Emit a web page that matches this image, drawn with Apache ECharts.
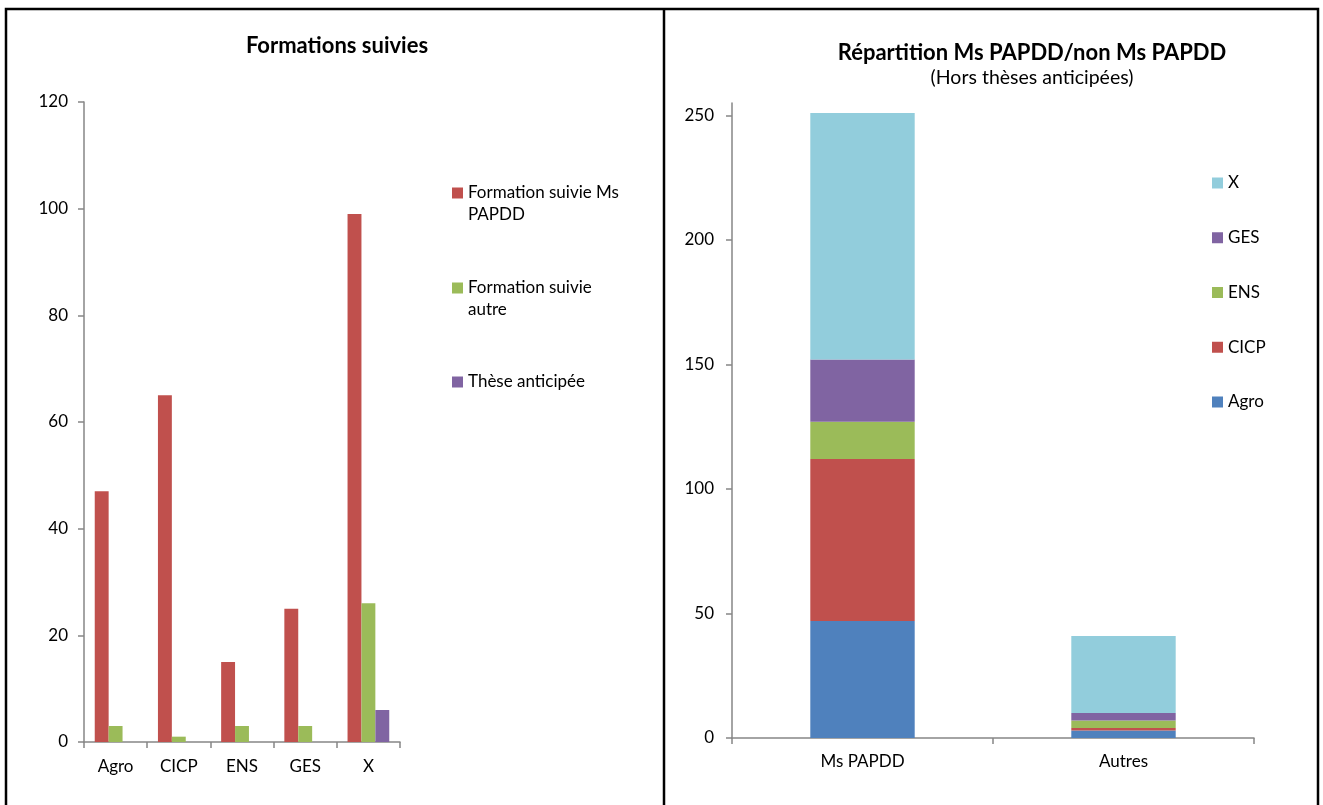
<!DOCTYPE html>
<html>
<head>
<meta charset="utf-8">
<script src="https://cdn.jsdelivr.net/npm/echarts@6/dist/echarts.min.js"></script>
<style>
  html, body { margin: 0; padding: 0; background: #fff; }
  #chart { width: 1323px; height: 805px; }
</style>
</head>
<body>
<div id="chart"></div>
<script>
// Formations suivies (left panel)
const schools = ['Agro', 'CICP', 'ENS', 'GES', 'X'];
const msPapdd = [47, 65, 15, 25, 99];
const autre = [3, 1, 3, 3, 26];
const theseAnticipee = [0, 0, 0, 0, 6];

// Répartition Ms PAPDD / non Ms PAPDD (right panel), one stack per school
const groups = ['Ms PAPDD', 'Autres'];
const stackAgro = [47, 3];
const stackCicp = [65, 1];
const stackEns = [15, 3];
const stackGes = [25, 3];
const stackX = [99, 31];
const rightTicks = [0, 50, 100, 150, 200, 250];

const FONT = 'Lato, "Open Sans", sans-serif';
const AXIS = '#868686';
const RED = '#C0504D', GREEN = '#9BBB59', PURPLE = '#8064A2', BLUE = '#4F81BD', CYAN = '#92CDDC';

const chart = echarts.init(document.getElementById('chart'), null, { renderer: 'canvas' });

const axisLineStyle = { show: true, lineStyle: { color: AXIS, width: 1.5 } };
const tickStyle = { show: true, length: 6, lineStyle: { color: AXIS, width: 1.5 } };
const labelText = { color: '#000', fontFamily: FONT, fontSize: 17 };
const legendText = { color: '#000', fontFamily: FONT, fontSize: 17, lineHeight: 22 };

// Two-line legend entries: a blank first line keeps the swatch level with the
// first line of text, since the legend centres the swatch on the whole block.
const twoLine = (a, b) => () => ' \n' + a + '\n' + b;

chart.setOption({
  animation: false,
  textStyle: { fontFamily: FONT },
  title: [
    { text: 'Formations suivies', left: 337, top: 35, textAlign: 'center', padding: 0,
      textStyle: { fontFamily: FONT, fontSize: 22, fontWeight: 'bold', color: '#000' } },
    { text: 'Répartition Ms PAPDD/non Ms PAPDD', subtext: '(Hors thèses anticipées)',
      left: 1032, top: 42, textAlign: 'center', itemGap: 4, padding: 0,
      textStyle: { fontFamily: FONT, fontSize: 22, fontWeight: 'bold', color: '#000' },
      subtextStyle: { fontFamily: FONT, fontSize: 19.5, color: '#000' } }
  ],
  legend: [
    { data: ['Formation suivie Ms PAPDD'], left: 452, top: 160, padding: 0,
      itemWidth: 11, itemHeight: 11, icon: 'rect',
      formatter: twoLine('Formation suivie Ms', 'PAPDD'), textStyle: legendText },
    { data: ['Formation suivie autre'], left: 452, top: 255, padding: 0,
      itemWidth: 11, itemHeight: 11, icon: 'rect',
      formatter: twoLine('Formation suivie', 'autre'), textStyle: legendText },
    { data: ['Thèse anticipée'], left: 452, top: 371, padding: 0,
      itemWidth: 11, itemHeight: 11, icon: 'rect', textStyle: legendText },
    { data: ['X', 'GES', 'ENS', 'CICP', 'Agro'], left: 1212, top: 173, padding: 0,
      orient: 'vertical', itemWidth: 11, itemHeight: 11, itemGap: 34.75, icon: 'rect',
      textStyle: { color: '#000', fontFamily: FONT, fontSize: 17, lineHeight: 20 } }
  ],
  grid: [
    { left: 84, top: 102, width: 316, height: 640 },
    { left: 732, top: 103, width: 522, height: 635 }
  ],
  xAxis: [
    { type: 'category', gridIndex: 0, data: schools, boundaryGap: true,
      axisLine: axisLineStyle, axisTick: Object.assign({ interval: 0 }, tickStyle),
      axisLabel: Object.assign({ margin: 16, interval: 0 }, labelText) },
    { type: 'category', gridIndex: 1, data: groups, boundaryGap: true,
      axisLine: axisLineStyle, axisTick: Object.assign({ interval: 0 }, tickStyle),
      axisLabel: Object.assign({ margin: 15, interval: 0 }, labelText) }
  ],
  yAxis: [
    { type: 'value', gridIndex: 0, min: 0, max: 120, interval: 20,
      axisLine: axisLineStyle, axisTick: tickStyle, splitLine: { show: false },
      axisLabel: Object.assign({ margin: 16 }, labelText) },
    { type: 'value', gridIndex: 1, min: 0, max: 255, interval: 50,
      axisLine: axisLineStyle,
      axisTick: Object.assign({ customValues: rightTicks }, tickStyle),
      splitLine: { show: false },
      axisLabel: Object.assign({ margin: 18, customValues: rightTicks }, labelText) }
  ],
  series: [
    { name: 'Formation suivie Ms PAPDD', type: 'bar', xAxisIndex: 0, yAxisIndex: 0,
      data: msPapdd, itemStyle: { color: RED }, barGap: '0%', barCategoryGap: '34%' },
    { name: 'Formation suivie autre', type: 'bar', xAxisIndex: 0, yAxisIndex: 0,
      data: autre, itemStyle: { color: GREEN } },
    { name: 'Thèse anticipée', type: 'bar', xAxisIndex: 0, yAxisIndex: 0,
      data: theseAnticipee, itemStyle: { color: PURPLE } },

    { name: 'Agro', type: 'bar', stack: 'rep', xAxisIndex: 1, yAxisIndex: 1,
      data: stackAgro, itemStyle: { color: BLUE }, barCategoryGap: '60%' },
    { name: 'CICP', type: 'bar', stack: 'rep', xAxisIndex: 1, yAxisIndex: 1,
      data: stackCicp, itemStyle: { color: RED } },
    { name: 'ENS', type: 'bar', stack: 'rep', xAxisIndex: 1, yAxisIndex: 1,
      data: stackEns, itemStyle: { color: GREEN } },
    { name: 'GES', type: 'bar', stack: 'rep', xAxisIndex: 1, yAxisIndex: 1,
      data: stackGes, itemStyle: { color: PURPLE } },
    { name: 'X', type: 'bar', stack: 'rep', xAxisIndex: 1, yAxisIndex: 1,
      data: stackX, itemStyle: { color: CYAN } }
  ],
  graphic: [
    // page frame around both panels, with the divider between them
    { type: 'polyline', silent: true,
      shape: { points: [[6, 810], [6, 9], [1318, 9], [1318, 810]] },
      style: { stroke: '#000', lineWidth: 2.5, fill: null } },
    { type: 'line', silent: true,
      shape: { x1: 664, y1: 9, x2: 664, y2: 810 },
      style: { stroke: '#000', lineWidth: 2.5 } }
  ]
});
</script>
</body>
</html>
